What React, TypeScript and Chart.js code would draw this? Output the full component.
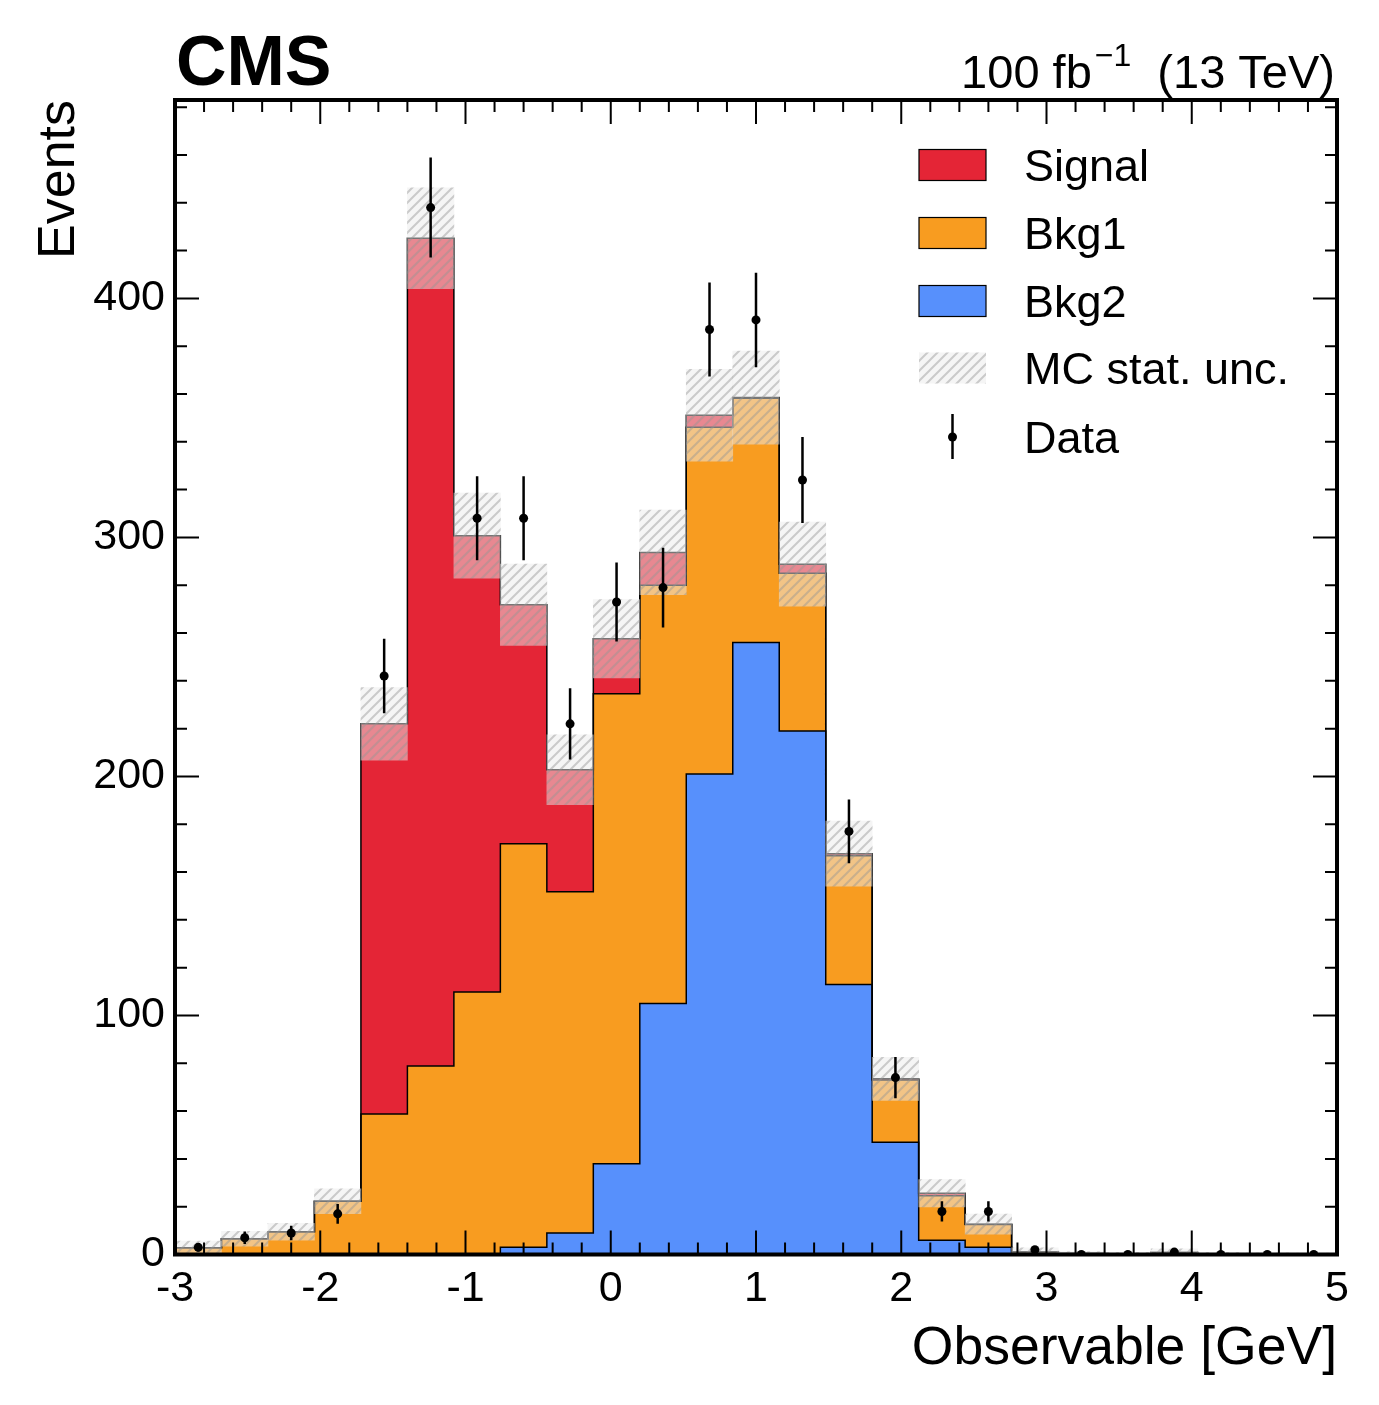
import { useEffect, useRef } from "react";
import { Chart, registerables } from "chart.js";

Chart.register(...registerables);

// bin edges of the histogram (GeV)
const binEdges = [
  -3, -2.68, -2.36, -2.04, -1.72, -1.4, -1.08, -0.76, -0.44, -0.12, 0.2, 0.52,
  0.84, 1.16, 1.48, 1.8, 2.12, 2.44, 2.76, 3.08, 3.4, 3.72, 4.04, 4.36, 4.68, 5,
];

// stacked MC components, one value per bin
const bkg2 = [0, 0, 0, 0, 0, 0, 0, 3, 9, 38, 105, 201, 256, 219, 113, 47, 6, 3, 0, 0, 0, 0, 0, 0, 0];
const bkg1 = [
  2.8, 6.6, 9.5, 22.3, 58.8, 78.9, 109.8, 168.8, 142.8, 196.6, 175, 145.1, 102.2, 66, 53.8, 26,
  18.6, 9.6, 1.0, 0.4, 0.3, 0.8, 0.3, 0.2, 0.2,
];
const signal = [
  0, 0, 0, 0, 163.2, 346.3, 190.9, 100, 51, 23, 13.7, 5, 0.3, 3.8, 0.9, 0.5, 1.0, 0.1, 0, 0, 0, 0, 0,
  0, 0,
];
const mcUnc = [
  2.8, 3.1, 3.5, 5.2, 15.2, 21.1, 17.8, 17, 14.6, 16.4, 17.7, 19.2, 19.5, 17.6, 13.6, 9, 5.7, 4.2,
  1.8, 0.8, 0.6, 1.6, 0.6, 0.5, 0.4,
];
const observed = [3, 7, 9, 17, 242, 438, 308, 308, 222, 273, 279, 387, 391, 324, 177, 74, 18, 18, 2, 0, 0, 1, 0, 0, 0];

const xTickValues = [-3, -2, -1, 0, 1, 2, 3, 4, 5];
const yTickValues = [0, 100, 200, 300, 400];

const legendLabels = ["Signal", "Bkg1", "Bkg2", "MC stat. unc.", "Data"];

const COLORS = { signal: "#e42536", bkg1: "#f89c20", bkg2: "#5790fc" };
const FONT = '"Liberation Sans", Arial, Helvetica, sans-serif';

const centers = binEdges.slice(0, -1).map((e, i) => (e + binEdges[i + 1]) / 2);
const cumBlue = bkg2;
const cumOrange = bkg2.map((v, i) => v + bkg1[i]);
const cumTotal = cumOrange.map((v, i) => v + signal[i]);

// stepped outline points on bin edges (last bin repeated at the right edge)
const stepPoints = (vals: number[]) =>
  binEdges.map((x, i) => ({ x, y: vals[Math.min(i, vals.length - 1)] }));

function makeHatch(): CanvasPattern | string {
  const s = 10;
  const c = document.createElement("canvas");
  c.width = s;
  c.height = s;
  const g = c.getContext("2d");
  if (!g) return "rgba(200,200,200,0.5)";
  g.fillStyle = "rgba(236,236,236,0.5)";
  g.fillRect(0, 0, s, s);
  g.strokeStyle = "rgba(150,150,150,0.45)";
  g.lineWidth = 2;
  g.beginPath();
  g.moveTo(-2, s + 2);
  g.lineTo(s + 2, -2);
  g.moveTo(-2, 2);
  g.lineTo(2, -2);
  g.moveTo(s - 2, s + 2);
  g.lineTo(s + 2, s - 2);
  g.stroke();
  return g.createPattern(c, "repeat") || "rgba(200,200,200,0.5)";
}

const App = () => {
  const canvasRef = useRef<HTMLCanvasElement>(null);

  useEffect(() => {
    const ctx = canvasRef.current?.getContext("2d");
    if (!ctx) return;
    const hatch = makeHatch();

    const decorations = {
      id: "cmsDecorations",
      afterDatasetsDraw(chart: any) {
        const { ctx: c, scales } = chart;
        const xs = scales.x;
        const ys = scales.y;
        c.save();
        c.strokeStyle = "#000";
        c.lineWidth = 2.5;
        c.beginPath();
        observed.forEach((v, i) => {
          const err = Math.sqrt(v);
          if (err <= 0) return;
          const px = xs.getPixelForValue(centers[i]);
          c.moveTo(px, ys.getPixelForValue(v - err));
          c.lineTo(px, ys.getPixelForValue(v + err));
        });
        c.stroke();
        c.restore();
      },
      afterDraw(chart: any) {
        const { ctx: c, chartArea: a, scales } = chart;
        const xs = scales.x;
        const ys = scales.y;
        c.save();

        // frame
        c.strokeStyle = "#000";
        c.lineWidth = 4;
        c.strokeRect(a.left, a.top, a.right - a.left, a.bottom - a.top);

        // inward ticks on all four sides
        c.lineWidth = 2;
        c.beginPath();
        for (let k = 0; k <= 40; k++) {
          const v = xTickValues[0] + k * 0.2;
          const px = xs.getPixelForValue(v);
          const len = k % 5 === 0 ? 24 : 12;
          c.moveTo(px, a.bottom);
          c.lineTo(px, a.bottom - len);
          c.moveTo(px, a.top);
          c.lineTo(px, a.top + len);
        }
        for (let v = 0; v <= ys.max; v += 20) {
          const py = ys.getPixelForValue(v);
          const len = v % 100 === 0 ? 24 : 12;
          c.moveTo(a.left, py);
          c.lineTo(a.left + len, py);
          c.moveTo(a.right, py);
          c.lineTo(a.right - len, py);
        }
        c.stroke();

        c.fillStyle = "#000";
        c.textBaseline = "alphabetic";

        // CMS label
        c.font = `bold 70px ${FONT}`;
        c.textAlign = "left";
        c.fillText("CMS", 176, 85);

        // lumi label
        const big = `47px ${FONT}`;
        const small = `32px ${FONT}`;
        c.font = big;
        const w1 = c.measureText("100 fb").width;
        const w3 = c.measureText("  (13 TeV)").width;
        c.font = small;
        const w2 = c.measureText("\u22121").width;
        const gap = 3;
        let lx = a.right - 2 - (w1 + gap + w2 + w3);
        c.font = big;
        c.fillText("100 fb", lx, 88);
        lx += w1 + gap;
        c.font = small;
        c.fillText("\u22121", lx, 66);
        lx += w2;
        c.font = big;
        c.fillText("  (13 TeV)", lx, 88);

        // axis titles
        c.font = `53.5px ${FONT}`;
        c.textAlign = "right";
        c.fillText("Observable [GeV]", a.right, 1364);
        c.font = `52px ${FONT}`;
        c.save();
        c.translate(74, a.top);
        c.rotate(-Math.PI / 2);
        c.fillText("Events", 0, 0);
        c.restore();

        // legend
        const boxX = 919;
        const boxW = 67;
        const boxH = 31;
        const textX = 1024;
        const rows = [165, 233, 301, 368, 437];
        const fills = [COLORS.signal, COLORS.bkg1, COLORS.bkg2];
        c.font = `45px ${FONT}`;
        c.textAlign = "left";
        legendLabels.forEach((label, i) => {
          const cy = rows[i];
          if (i < 3) {
            c.fillStyle = fills[i];
            c.fillRect(boxX, cy - boxH / 2, boxW, boxH);
            c.strokeStyle = "#000";
            c.lineWidth = 1.2;
            c.strokeRect(boxX, cy - boxH / 2, boxW, boxH);
          } else if (i === 3) {
            c.fillStyle = hatch;
            c.fillRect(boxX, cy - boxH / 2, boxW, boxH);
          } else {
            c.strokeStyle = "#000";
            c.lineWidth = 2.5;
            c.beginPath();
            c.moveTo(boxX + boxW / 2, cy - 23);
            c.lineTo(boxX + boxW / 2, cy + 22);
            c.stroke();
            c.fillStyle = "#000";
            c.beginPath();
            c.arc(boxX + boxW / 2, cy, 4.5, 0, Math.PI * 2);
            c.fill();
          }
          c.fillStyle = "#000";
          c.fillText(label, textX, cy + 16);
        });

        c.restore();
      },
    };

    const myChart = new Chart(ctx, {
      type: "line",
      data: {
        datasets: [
          {
            type: "scatter",
            label: "Data",
            data: centers.map((x, i) => ({ x, y: observed[i] })),
            pointRadius: 4.5,
            pointBackgroundColor: "#000",
            pointBorderWidth: 0,
            showLine: false,
            order: 0,
          } as any,
          {
            type: "bar",
            label: "MC stat. unc.",
            data: centers.map((x, i) => ({
              x,
              y: [Math.max(0, cumTotal[i] - mcUnc[i]), cumTotal[i] + mcUnc[i]],
            })),
            backgroundColor: hatch,
            borderWidth: 0,
            barPercentage: 1,
            categoryPercentage: 1,
            order: 1,
          },
          {
            type: "line",
            label: "Signal",
            data: stepPoints(cumTotal),
            stepped: true,
            borderColor: "#000",
            borderWidth: 1.5,
            backgroundColor: COLORS.signal,
            fill: 3,
            pointRadius: 0,
            order: 2,
          },
          {
            type: "line",
            label: "Bkg1",
            data: stepPoints(cumOrange),
            stepped: true,
            borderColor: "#000",
            borderWidth: 1.5,
            backgroundColor: COLORS.bkg1,
            fill: 4,
            pointRadius: 0,
            order: 3,
          },
          {
            type: "line",
            label: "Bkg2",
            data: stepPoints(cumBlue),
            stepped: true,
            borderColor: "#000",
            borderWidth: 1.5,
            backgroundColor: COLORS.bkg2,
            fill: "origin",
            pointRadius: 0,
            order: 4,
          },
        ] as any,
      },
      options: {
        animation: false,
        responsive: false,
        events: [],
        layout: { padding: { top: 100, right: 42, left: 0, bottom: 0 } },
        plugins: {
          legend: { display: false },
          tooltip: { enabled: false },
          filler: { drawTime: "beforeDatasetsDraw" },
        } as any,
        scales: {
          x: {
            type: "linear",
            min: -3,
            max: 5,
            offset: false,
            grid: { display: false, drawTicks: false },
            border: { display: false },
            ticks: {
              stepSize: 1,
              autoSkip: false,
              maxRotation: 0,
              includeBounds: false,
              padding: 9,
              color: "#000",
              font: { family: FONT, size: 43 },
            },
            afterFit: (scale: any) => {
              scale.height = 150.5;
            },
          },
          y: {
            type: "linear",
            min: 0,
            max: 483,
            grid: { display: false, drawTicks: false },
            border: { display: false },
            ticks: {
              stepSize: 100,
              includeBounds: false,
              padding: 10,
              color: "#000",
              font: { family: FONT, size: 43 },
              callback: (v: any) => (yTickValues.includes(Number(v)) ? String(v) : ""),
            },
            afterFit: (scale: any) => {
              scale.width = 175;
            },
          },
        },
      },
      plugins: [decorations],
    });

    return () => {
      myChart.destroy();
    };
  }, []);

  return (
    <div style={{ position: "absolute", left: 0, top: 0, width: 1379, height: 1405, background: "#fff" }}>
      <canvas ref={canvasRef} width={1379} height={1405}></canvas>
    </div>
  );
};

export default App;
